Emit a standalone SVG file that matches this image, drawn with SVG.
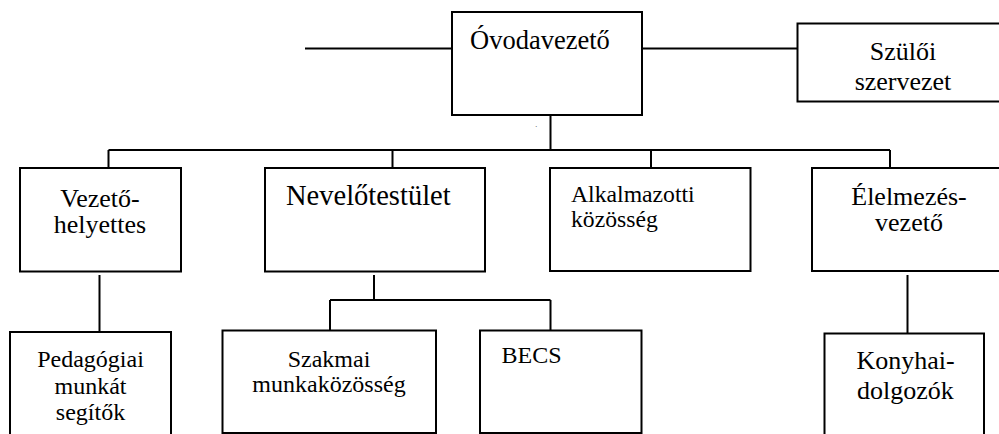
<svg xmlns="http://www.w3.org/2000/svg" width="999" height="434" viewBox="0 0 999 434">
<style>
.box{fill:#fff;stroke:#000;stroke-width:2}
.ln{fill:none;stroke:#000;stroke-width:2}
text{font-family:'Liberation Serif','DejaVu Serif',serif;fill:#000}
.c{text-anchor:middle}
</style>
<rect width="999" height="434" fill="#fff"/>
<g id="connectors">
<path class="ln" d="M305 48.5H452M642 48.5H797"/>
<path class="ln" d="M550.5 115V150M108.5 150H890M108.5 150V168M392.5 150V168M651 150V168M890 150V168"/>
<path class="ln" d="M99.5 275V332"/>
<path class="ln" d="M374 275V300M330 300H550.5M330 300V332M550.5 300V330"/>
<path class="ln" d="M907.5 275V345"/>
</g>
<g id="ovodavezeto">
<rect class="box" x="452" y="12" width="190" height="103"/>
<text x="470" y="49" font-size="26.5" font-family="Liberation Serif, serif">Óvodavezető</text>
</g>
<text x="535.5" y="127" font-size="6">.</text>
<g id="szuloi">
<rect class="box" x="797.5" y="23.5" width="215" height="78"/>
<text class="c" x="903" y="60" font-size="26">Szülői</text>
<text class="c" x="903" y="90" font-size="26">szervezet</text>
</g>
<g id="vezetohelyettes">
<rect class="box" x="20" y="168" width="161" height="103.5"/>
<text class="c" x="100" y="206.5" font-size="26">Vezető-</text>
<text class="c" x="100" y="233" font-size="26">helyettes</text>
</g>
<g id="nevelotestulet">
<rect class="box" x="265" y="168" width="220" height="103.5"/>
<text x="286" y="205" font-size="28.5">Nevelőtestület</text>
</g>
<g id="alkalmazotti">
<rect class="box" x="550" y="168" width="200.5" height="103"/>
<text x="571" y="201.5" font-size="23.7">Alkalmazotti</text>
<text x="571" y="226.5" font-size="23.7">közösség</text>
</g>
<g id="elelmezes">
<rect class="box" x="812" y="168" width="200" height="103"/>
<text class="c" x="909" y="205" font-size="26">Élelmezés-</text>
<text class="c" x="909" y="231" font-size="26">vezető</text>
</g>
<g id="pedagogiai">
<rect class="box" x="10" y="332" width="161" height="120"/>
<text class="c" x="90.5" y="366.5" font-size="24">Pedagógiai</text>
<text class="c" x="90.5" y="393.5" font-size="24">munkát</text>
<text class="c" x="90.5" y="420" font-size="24">segítők</text>
</g>
<g id="szakmai">
<rect class="box" x="222.5" y="330.5" width="213.5" height="102.5"/>
<text class="c" x="329" y="366.5" font-size="24">Szakmai</text>
<text class="c" x="329" y="391.5" font-size="24">munkaközösség</text>
</g>
<g id="becs">
<rect class="box" x="480" y="330.5" width="161.5" height="102.5"/>
<text x="501.5" y="362.5" font-size="24">BECS</text>
</g>
<g id="konyhai">
<rect class="box" x="824.5" y="333.5" width="159.5" height="120"/>
<text class="c" x="905.5" y="368.5" font-size="26">Konyhai-</text>
<text class="c" x="905.5" y="398.5" font-size="26">dolgozók</text>
</g>
</svg>
